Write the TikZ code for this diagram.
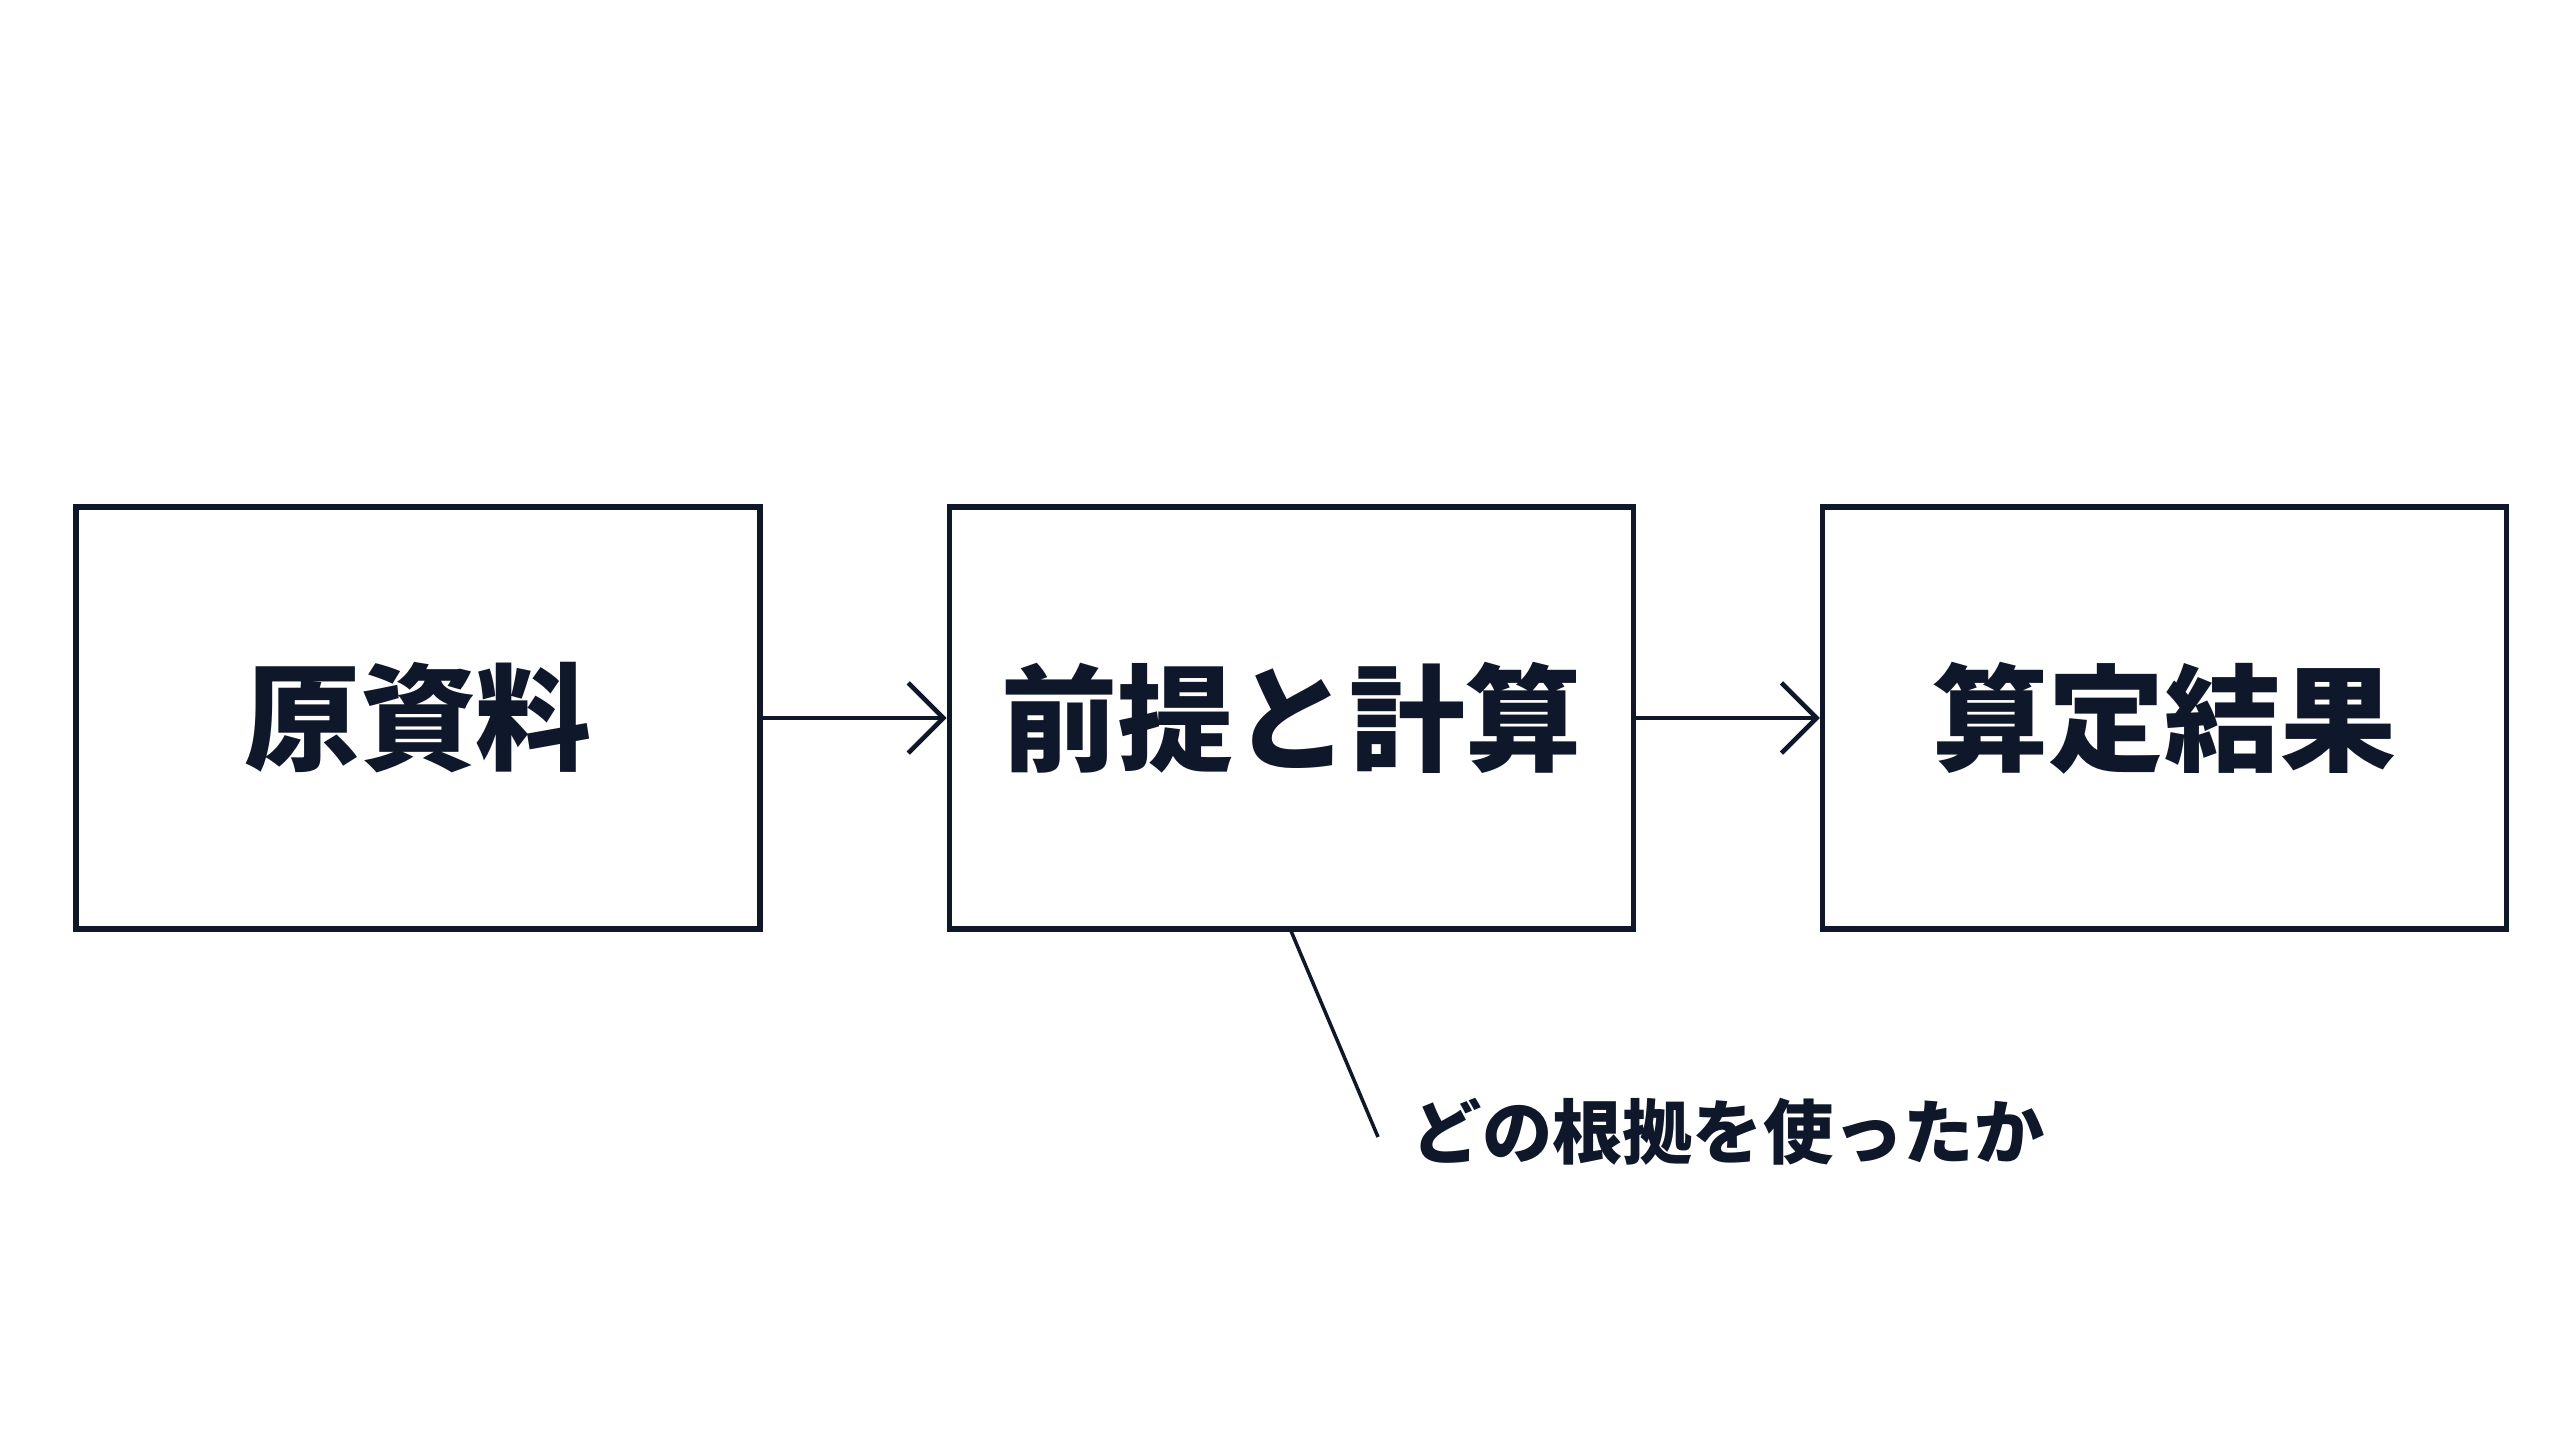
\documentclass[tikz,border=0pt]{standalone}
\usepackage{fontspec}
\setmainfont{Noto Sans CJK JP}
\usetikzlibrary{positioning,arrows.meta}
\definecolor{ink}{HTML}{0F172A}
\tikzset{
  stage/.style={draw=ink, line width=1.5pt, minimum width=6.84cm, minimum height=4.22cm, inner sep=0pt, font=\fontsize{33}{36}\selectfont\bfseries, text=ink},
  flow/.style={draw=ink, line width=1.3pt, -{Straight Barb[length=10pt,width=20pt,line width=1.3pt]}},
}
\begin{document}
\begin{tikzpicture}
\useasboundingbox (0,0) rectangle (25.6,14.29);

% Stages
\node[stage] (source) at (4.18,7.11) {原資料};
\node[stage, right=1.84cm of source] (calc) {前提と計算};
\node[stage, right=1.84cm of calc] (result) {算定結果};

% Flow
\draw[flow] (source) -- (calc);
\draw[flow] (calc) -- (result);

% Note
\node[anchor=west, inner sep=0pt, font=\fontsize{20}{24}\selectfont\bfseries, text=ink] (note) at (14.11,2.97) {どの根拠を使ったか};
\coordinate (tip) at (13.78,2.92);
\draw[ink, line width=1pt] (calc.south) -- (tip);
\end{tikzpicture}
\end{document}
